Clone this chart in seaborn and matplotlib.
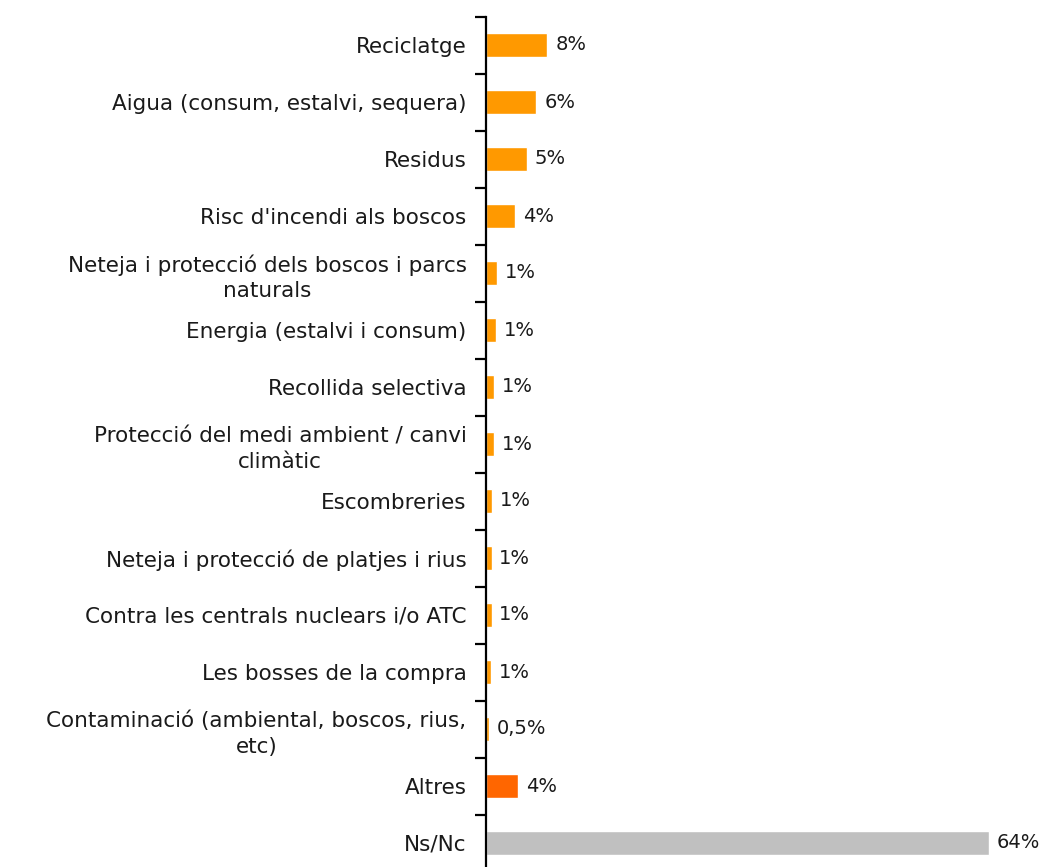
import matplotlib
matplotlib.use("Agg")
import matplotlib.pyplot as plt
import seaborn as sns
import pandas as pd

# Data
categories = [
    "Reciclatge",
    "Aigua (consum, estalvi, sequera)",
    "Residus",
    "Risc d'incendi als boscos",
    "Neteja i protecció dels boscos i parcs\nnaturals",
    "Energia (estalvi i consum)",
    "Recollida selectiva",
    "Protecció del medi ambient / canvi\nclimàtic",
    "Escombreries",
    "Neteja i protecció de platjes i rius",
    "Contra les centrals nuclears i/o ATC",
    "Les bosses de la compra",
    "Contaminació (ambiental, boscos, rius,\netc)",
    "Altres",
    "Ns/Nc",
]
values = [7.8, 6.4, 5.2, 3.7, 1.4, 1.3, 1.0, 1.0, 0.8, 0.7, 0.7, 0.6, 0.4, 4.1, 64.0]
value_labels = ["8%", "6%", "5%", "4%", "1%", "1%", "1%", "1%", "1%", "1%", "1%",
                "1%", "0,5%", "4%", "64%"]
colors = ["#FF9900"] * 13 + ["#FF6600", "#C0C0C0"]

df = pd.DataFrame({"cat": categories, "val": values})

sns.set_style("white")
plt.rcParams["font.family"] = ["DejaVu Sans"]

fig = plt.figure(figsize=(10.41, 8.67), dpi=100)
ax = fig.add_axes([486 / 1041, -4.5 / 867, 550 / 1041, 855 / 867])

sns.barplot(data=df, y="cat", x="val", hue="cat", palette=colors, legend=False,
            orient="h", width=0.43, saturation=1, ax=ax)

ax.set_xlim(0, 70)
ax.set_ylim(14.5, -0.5)
ax.set_xlabel("")
ax.set_ylabel("")
ax.set_xticks([])

for s in ["top", "right", "bottom"]:
    ax.spines[s].set_visible(False)
ax.spines["left"].set_linewidth(1.6)
ax.spines["left"].set_color("black")

# category labels centred, boundary ticks
ax.tick_params(axis="y", which="major", left=True, length=0, pad=14,
               labelsize=15.5, labelcolor="#1a1a1a")
for lbl in ax.get_yticklabels():
    lbl.set_multialignment("center")
    lbl.set_linespacing(1.35)
ax.set_yticks([i + 0.5 for i in range(-1, 15)], minor=True)
ax.tick_params(axis="y", which="minor", left=True, length=8, width=1.6,
               direction="out", color="black")

for i, (v, t) in enumerate(zip(values, value_labels)):
    ax.text(v + 1.0, i, t, va="center", ha="left", fontsize=14, color="#1a1a1a")

fig.savefig("out.png", dpi=100)
